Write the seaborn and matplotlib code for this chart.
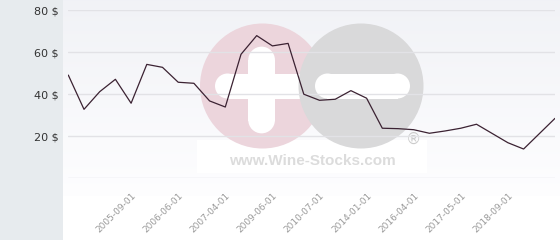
import numpy as np
import matplotlib
matplotlib.use("Agg")
import matplotlib.pyplot as plt
import matplotlib.transforms as mtransforms
from matplotlib.patches import Circle, FancyBboxPatch, Rectangle
import seaborn as sns
import pandas as pd

# ---- data ----
prices = [49.0, 32.7, 41.1, 47.0, 35.6, 54.1, 52.7, 45.6, 45.1, 36.7,
          33.8, 58.9, 67.8, 62.9, 64.1, 39.9, 37.0, 37.5, 41.6, 38.0,
          23.7, 23.5, 23.0, 21.3, 22.4, 23.7, 25.6, 21.2, 16.8, 13.8,
          21.1, 28.4]
tick_positions = [4, 7, 10, 13, 16, 19, 22, 25, 28]
tick_labels = ["2005-09-01", "2006-06-01", "2007-04-01", "2009-06-01",
               "2010-07-01", "2014-01-01", "2016-04-01", "2017-05-01",
               "2018-09-01"]
y_values = [0, 20, 40, 60, 80]
y_labels = ["", "20 $", "40 $", "60 $", "80 $"]

df = pd.DataFrame({"idx": np.arange(len(prices)), "price": prices})

sns.set_style("white")
plt.rcParams['font.family'] = ['DejaVu Sans']

W, H = 560, 240
fig = plt.figure(figsize=(W / 100, H / 100), dpi=100)
fig.patch.set_facecolor("white")

# ---- background / decoration axes in pixel coords ----
bg = fig.add_axes([0, 0, 1, 1], zorder=0)
bg.set_xlim(0, W)
bg.set_ylim(H, 0)
bg.axis("off")
grad = np.linspace(0, 1, 200).reshape(-1, 1)
top = np.array([0.945, 0.949, 0.965])
bot = np.array([0.995, 0.995, 1.0])
img = top[None, None, :] * (1 - grad[:, :, None]) + bot[None, None, :] * grad[:, :, None]
bg.imshow(img, extent=[63, W, 196, 0], aspect="auto", zorder=0)
bg.add_patch(Rectangle((0, 0), 62.5, H, color="#e7ebee", zorder=1, lw=0))

# watermark
bg.add_patch(Rectangle((197, 140), 230, 33, color="white", zorder=1.5, lw=0))
bg.add_patch(Circle((262.5, 86), 62.5, color="#ecd5dc", zorder=2, lw=0))
bg.add_patch(Rectangle((227, 73.5), 80, 25, color="white", zorder=2.2, lw=0))
bg.add_patch(Circle((227.5, 86), 12.5, color="white", zorder=2.2, lw=0))
bg.add_patch(Rectangle((248.3, 59.5), 26.7, 61, color="white", zorder=2.2, lw=0))
bg.add_patch(Circle((261.6, 60), 13.35, color="white", zorder=2.2, lw=0))
bg.add_patch(Circle((261.6, 120), 13.35, color="white", zorder=2.2, lw=0))
bg.add_patch(Circle((361, 86), 62.5, color="#d9d9da", zorder=3, lw=0))
bg.add_patch(Rectangle((327, 73.5), 71, 25, color="white", zorder=3.2, lw=0))
bg.add_patch(Circle((327.5, 86), 12.5, color="white", zorder=3.2, lw=0))
bg.add_patch(Circle((397.5, 86), 12.5, color="white", zorder=3.2, lw=0))
bg.text(312, 161, "www.Wine-Stocks.com", family="Liberation Sans",
        fontweight="bold", fontsize=11, color="#dcdcdc", ha="center",
        va="center", zorder=4)
bg.text(413, 139, "®", family="DejaVu Sans", fontsize=11, color="#cccccc",
        ha="center", va="center", zorder=4)

# ---- main chart ----
x0, x1 = 68.3, 555
y_top, y_bot = 10, 178
ax = fig.add_axes([x0 / W, (H - y_bot) / H, (x1 - x0) / W, (y_bot - y_top) / H],
                  zorder=5)
ax.patch.set_alpha(0)
sns.lineplot(data=df, x="idx", y="price", ax=ax, color="#3b2232", lw=0.9)
ax.set_xlim(0, len(prices) - 1)
ax.set_ylim(0, 80)
ax.set_yticks(y_values)
ax.set_yticklabels(y_labels, fontsize=8, color="#333333")
ax.set_xticks(tick_positions)
ax.set_xticklabels(tick_labels, fontsize=6.5, color="#9a9a9a", rotation=45,
                   ha="right", rotation_mode="anchor", va="center")
ax.tick_params(axis="y", length=0, pad=7)
ax.tick_params(axis="x", length=0, pad=12)
shift = mtransforms.ScaledTranslation(0.035, 0, fig.dpi_scale_trans)
for lab in ax.get_xticklabels():
    lab.set_transform(lab.get_transform() + shift)
ax.grid(axis="y", color="#e2e2e6", lw=1)
ax.grid(axis="x", visible=False)
ax.set_axisbelow(True)
ax.set_xlabel("")
ax.set_ylabel("")
for s in ax.spines.values():
    s.set_visible(False)

fig.savefig("out.png", dpi=100)
